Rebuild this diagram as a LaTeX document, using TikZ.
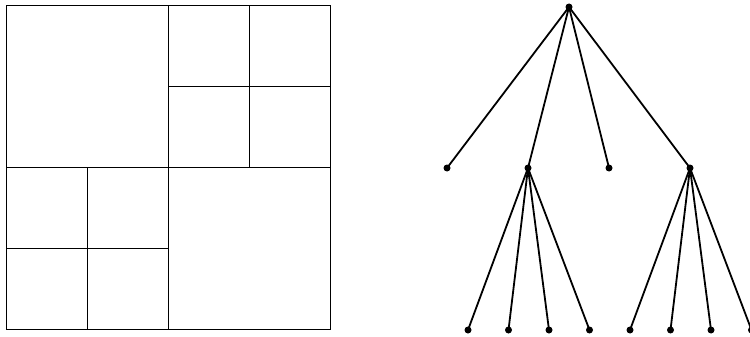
\documentclass[tikz,border=0pt]{standalone}
\begin{document}
\begin{tikzpicture}[x=1pt,y=-1pt,
  edge/.style={line width=1.8pt},
  dot/.style={circle,fill=black,inner sep=0pt,minimum size=7pt}]
\useasboundingbox (0,0) rectangle (750,337);
% quadtree
\begin{scope}[line width=1.8pt]
\draw (6.5,5.5) rectangle (330.5,329.5);
\draw (168.5,5.5) -- (168.5,329.5);
\draw (6.5,167.5) -- (330.5,167.5);
\draw (249.5,5.5) -- (249.5,167.5);
\draw (168.5,86.5) -- (330.5,86.5);
\draw (87.5,167.5) -- (87.5,329.5);
\draw (6.5,248.5) -- (168.5,248.5);
\end{scope}
% tree
\node[dot] (r) at (569,7) {};
\node[dot] (a) at (447,168) {};
\node[dot] (b) at (528,168) {};
\node[dot] (c) at (609,168) {};
\node[dot] (d) at (690,168) {};
\node[dot] (b1) at (468,330) {};
\node[dot] (b2) at (508.5,330) {};
\node[dot] (b3) at (549,330) {};
\node[dot] (b4) at (589.5,330) {};
\node[dot] (d1) at (630,330) {};
\node[dot] (d2) at (670.5,330) {};
\node[dot] (d3) at (711,330) {};
\node[dot] (d4) at (751.5,330) {};
\foreach \n in {a,b,c,d} \draw[edge] (r.center) -- (\n.center);
\foreach \n in {b1,b2,b3,b4} \draw[edge] (b.center) -- (\n.center);
\foreach \n in {d1,d2,d3,d4} \draw[edge] (d.center) -- (\n.center);
\end{tikzpicture}
\end{document}
